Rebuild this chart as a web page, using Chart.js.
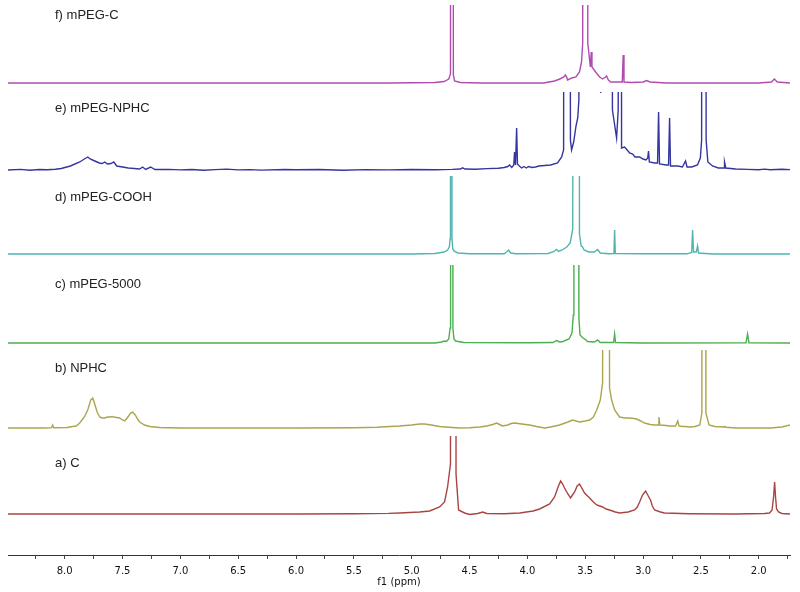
<!DOCTYPE html>
<html>
<head>
<meta charset="utf-8">
<script src="https://cdn.jsdelivr.net/npm/chart.js@4.4.1/dist/chart.umd.min.js"></script>
<style>
  html, body { margin: 0; padding: 0; background: #fff; }
  #wrap { width: 800px; height: 592px; }
</style>
</head>
<body>
<div id="wrap"><canvas id="chart"></canvas></div>
<script>
// 1H NMR stack, six spectra, shift axis runs right-to-left

const ppmMin = 1.73;
const ppmMax = 8.49;
const tickValues = [8.25, 8.0, 7.75, 7.5, 7.25, 7.0, 6.75, 6.5, 6.25, 6.0, 5.75, 5.5, 5.25,
  5.0, 4.75, 4.5, 4.25, 4.0, 3.75, 3.5, 3.25, 3.0, 2.75, 2.5, 2.25, 2.0, 1.75];
const labeledTicks = [8.0, 7.5, 7.0, 6.5, 6.0, 5.5, 5.0, 4.5, 4.0, 3.5, 3.0, 2.5, 2.0];

// labels, bottom trace first
const traceNames = ["a) C", "b) NPHC", "c) mPEG-5000", "d) mPEG-COOH", "e) mPEG-NPHC", "f) mPEG-C"];

// [ppm, intensity]; clipped peaks get a large guessed height
const traceC = [[8.49,0],[7.0,0],[6.0,0],[5.5,0.3],[5.2,0.6],[5.105,1],[4.932,2],[4.845,3],[4.759,7],
  [4.716,12],[4.69,27],[4.665,50],[4.657,2000],[4.625,2000],[4.617,40],[4.595,4],[4.543,1],[4.50,-0.5],
  [4.43,0.5],[4.387,2],[4.35,0.5],[4.2,0.3],[4.067,1],[3.95,3],[3.895,5],[3.808,10],[3.765,17],
  [3.735,27],[3.713,33],[3.695,30],[3.679,26],[3.65,20],[3.627,16],[3.61,19],[3.592,22],[3.57,28],
  [3.549,30],[3.53,26],[3.506,21],[3.48,18],[3.462,16],[3.43,12],[3.401,9],[3.375,8],[3.35,7],
  [3.32,5],[3.29,4],[3.24,2],[3.203,1],[3.13,2],[3.073,4],[3.05,7],[3.03,12],[3.005,19],[2.978,23],
  [2.955,18],[2.936,14],[2.92,8],[2.901,4],[2.85,2],[2.815,1],[2.6,0.3],[2.2,0],[1.95,0.5],[1.907,1],
  [1.885,4],[1.872,17],[1.863,32],[1.855,17],[1.846,5],[1.829,2],[1.80,0.5],[1.73,0]];

const traceNPHC = [[8.49,0],[8.2,0],[8.115,0.3],[8.104,3],[8.095,0.3],[7.98,0.5],[7.931,1.5],[7.90,2],
  [7.87,5],[7.83,11],[7.801,18],[7.775,28],[7.758,30],[7.74,24],[7.72,16],[7.697,11],[7.675,10],
  [7.654,10],[7.63,11],[7.611,11],[7.59,11.5],[7.576,11],[7.55,10.5],[7.525,10],[7.50,8],[7.481,7],
  [7.46,10],[7.43,15],[7.412,16],[7.39,13],[7.37,9],[7.352,6],[7.31,3],[7.265,1.5],[7.179,0.5],
  [7.0,0],[6.0,0],[5.5,0.3],[5.3,0.8],[5.191,1.5],[5.105,2],[5.0,3],[4.932,4],[4.889,4],[4.83,3],
  [4.759,1.5],[4.65,0.5],[4.586,0],[4.50,0.3],[4.413,1],[4.35,2],[4.30,3.5],[4.266,5],[4.24,3.5],
  [4.214,2],[4.17,3],[4.14,4.5],[4.111,5],[4.05,4],[3.981,3],[3.92,1.5],[3.851,0],[3.80,1],[3.722,3],
  [3.65,6],[3.609,8],[3.58,7],[3.549,6],[3.50,7],[3.462,8],[3.43,11],[3.401,18],[3.37,28],[3.35,45],
  [3.342,1500],[3.298,1500],[3.29,40],[3.272,28],[3.246,18],[3.203,11],[3.16,10],[3.117,10],[3.08,9.5],
  [3.056,9],[3.02,7],[2.987,5],[2.94,3.5],[2.901,3],[2.87,3],[2.863,11],[2.855,3],[2.80,2.5],[2.771,2],
  [2.72,2],[2.70,7],[2.69,2],[2.66,1.5],[2.633,1.5],[2.60,1],[2.55,1.5],[2.51,3],[2.492,15],[2.487,1500],
  [2.462,1500],[2.457,15],[2.43,3],[2.38,1.5],[2.30,1],[2.296,1.5],[2.28,0.8],[2.2,0],[1.9,0],[1.8,1],
  [1.73,3]];

const traceMPEG = [[8.49,0],[4.8,0],[4.74,1],[4.72,2],[4.70,1.5],[4.68,4],[4.668,15],[4.664,1500],
  [4.648,1500],[4.644,15],[4.635,4],[4.62,2],[4.55,0.5],[4.0,0.3],[3.78,0.5],[3.748,2.5],[3.72,1],
  [3.69,1.5],[3.675,2.5],[3.64,4],[3.615,10],[3.603,28],[3.598,1500],[3.56,1500],[3.555,25],[3.545,8],
  [3.52,5],[3.505,4],[3.48,1.5],[3.42,1],[3.393,3],[3.37,0.5],[3.255,0.5],[3.246,9],[3.238,0.5],
  [3.0,0],[2.11,0.3],[2.097,9],[2.085,0.3],[1.73,0]];

const traceCOOH = [[8.49,0],[5.0,0],[4.8,0.5],[4.72,2],[4.69,4],[4.675,7],[4.668,15],[4.665,1500],
  [4.655,1500],[4.652,15],[4.645,5],[4.63,2.5],[4.6,1],[4.5,0.3],[4.2,0.3],[4.18,2],[4.163,4],
  [4.145,1],[4.1,0.3],[3.82,0.5],[3.77,2.5],[3.748,4.5],[3.73,2.5],[3.70,4],[3.66,7],[3.63,11],
  [3.608,25],[3.598,1500],[3.56,1500],[3.55,20],[3.535,8],[3.523,7],[3.51,4],[3.47,2],[3.42,2],
  [3.393,4.5],[3.37,1],[3.30,0.3],[3.252,0.5],[3.246,24],[3.24,0.5],[3.0,0.2],[2.62,0.2],[2.58,1.5],
  [2.572,24],[2.564,2],[2.54,2],[2.529,8],[2.52,1],[2.4,0],[1.73,0]];

const traceMPEGNPHC = [[8.49,0],[8.38,0.6],[8.3,-0.3],[8.22,0.5],[8.15,0.2],[8.08,0.8],[8.03,1.5],
  [7.95,4],[7.87,8],[7.83,11],[7.80,13],[7.78,11],[7.74,9],[7.70,7],[7.675,6.5],[7.654,8],[7.63,6],
  [7.60,6.5],[7.576,8],[7.55,4],[7.50,3],[7.45,2],[7.40,1.5],[7.352,1],[7.326,3],[7.30,0.5],[7.257,3],
  [7.22,0.5],[7.1,0.6],[7.0,0.1],[6.9,0.5],[6.8,-0.2],[6.7,0.4],[6.6,0.9],[6.5,0.1],[6.4,0.4],
  [6.3,-0.1],[6.1,0.5],[6.0,0.2],[5.8,0.5],[5.6,-0.2],[5.4,0.4],[5.2,0.1],[5.0,0.5],[4.8,0.2],
  [4.65,0.6],[4.58,1],[4.56,2.2],[4.54,1],[4.45,0.8],[4.35,1.4],[4.25,1.8],[4.20,2.5],[4.17,3.5],
  [4.154,5],[4.135,2.5],[4.118,5],[4.111,18],[4.103,5],[4.093,42],[4.086,6],[4.07,4],[4.05,2],
  [4.03,3.5],[4.01,2],[3.99,3.5],[3.96,2.5],[3.93,3],[3.90,4],[3.85,4.5],[3.80,5],[3.739,7],
  [3.704,13],[3.687,20],[3.679,1500],[3.645,1500],[3.628,30],[3.618,20],[3.60,28],[3.58,44],
  [3.565,52],[3.555,70],[3.548,1500],[3.39,1500],[3.367,77],[3.345,1500],[3.282,1500],[3.265,60],
  [3.229,32],[3.215,60],[3.208,1500],[3.196,1500],[3.186,22],[3.16,23],[3.13,19],[3.117,17],
  [3.09,16],[3.07,13],[3.03,13],[3.00,11],[2.975,10],[2.96,12],[2.953,19],[2.946,8],[2.90,7],
  [2.875,7],[2.866,58],[2.858,6],[2.80,5],[2.78,5],[2.771,52],[2.763,4],[2.70,4],[2.66,3],[2.633,9],
  [2.62,3],[2.58,3],[2.53,5],[2.505,12],[2.494,30],[2.489,1500],[2.462,1500],[2.455,30],[2.44,8],
  [2.40,4],[2.35,2],[2.30,2],[2.296,8],[2.285,2],[2.2,1],[2.1,0.6],[2.0,0.2],[1.95,0.9],[1.9,0.3],
  [1.8,0.7],[1.73,0.4]];

const traceMPEGC = [[8.49,0],[5.2,0],[4.8,0.5],[4.72,1.5],[4.68,4],[4.665,9],[4.656,1500],[4.648,1500],
  [4.64,8],[4.63,2],[4.58,0.5],[4.4,0],[3.86,0],[3.765,2],[3.72,4],[3.704,5],[3.685,6],[3.672,8],
  [3.66,6],[3.653,3],[3.635,4],[3.618,5],[3.58,6],[3.55,11],[3.532,21],[3.522,40],[3.515,2000],
  [3.486,2000],[3.478,40],[3.456,16],[3.448,31],[3.442,16],[3.41,11],[3.376,6],[3.35,4],[3.325,6],
  [3.316,7],[3.30,3],[3.28,1],[3.18,1],[3.172,28],[3.165,1],[3.1,0.5],[3.0,1],[2.97,2.5],[2.94,1],
  [2.8,0],[2.0,0],[1.89,1],[1.865,4],[1.84,1],[1.73,0]];

const traces = [traceC, traceNPHC, traceMPEG, traceCOOH, traceMPEGNPHC, traceMPEGC];
const traceColors = ["#a94444", "#aaa54e", "#4caf50", "#52b4b0", "#3535a0", "#b04cb0"];

// layout: band height of each trace (px), visible peak height, label height above baseline
const bandHeights = [119, 86, 85, 89, 84, 87];
const clipHeight = 78;
const labelLift = [51, 60, 59, 57, 62, 68];

const datasets = traces.map((t, i) => ({
  label: traceNames[i],
  data: t.map(p => ({ x: p[0], y: p[1] })),
  yAxisID: "y" + i,
  borderColor: traceColors[i],
  borderWidth: 1.4,
  pointRadius: 0,
  tension: 0,
  fill: false,
}));

const scales = {
  x: {
    type: "linear",
    reverse: true,
    min: ppmMin,
    max: ppmMax,
    afterBuildTicks: (axis) => {
      axis.ticks = tickValues.map(v => ({ value: v }));
    },
    ticks: {
      autoSkip: false,
      maxRotation: 0,
      padding: 6,
      color: "#111",
      font: { family: "DejaVu Sans", size: 10 },
      callback: (v) => (labeledTicks.includes(v) ? v.toFixed(1) : ""),
    },
    grid: { drawOnChartArea: false, tickLength: 4, color: "#444" },
    border: { display: true, color: "#333", width: 1 },
    title: {
      display: true,
      text: "f1 (ppm)",
      color: "#111",
      font: { family: "DejaVu Sans", size: 10 },
      padding: { top: -7, bottom: 3 },
    },
  },
};
bandHeights.forEach((h, i) => {
  scales["y" + i] = {
    type: "linear",
    display: false,
    stack: "nmr",
    stackWeight: h,
    min: -(h - clipHeight),
    max: clipHeight,
  };
});

// keep each spectrum inside its own band
const bandClip = {
  id: "bandClip",
  beforeDatasetDraw(chart, args) {
    const { xScale, yScale } = args.meta;
    const ctx = chart.ctx;
    ctx.save();
    ctx.beginPath();
    ctx.rect(xScale.left, yScale.top, xScale.right - xScale.left, yScale.bottom - yScale.top);
    ctx.clip();
  },
  afterDatasetDraw(chart) {
    chart.ctx.restore();
  },
};

const traceLabels = {
  id: "traceLabels",
  afterDatasetsDraw(chart) {
    const ctx = chart.ctx;
    ctx.save();
    ctx.font = '13px "Liberation Sans", Arial, sans-serif';
    ctx.fillStyle = "#222";
    ctx.textBaseline = "middle";
    chart.data.datasets.forEach((ds, i) => {
      const y = chart.scales[ds.yAxisID].getPixelForValue(labelLift[i]);
      ctx.fillText(ds.label, 55, y);
    });
    ctx.restore();
  },
};

const ctx = document.getElementById("chart").getContext("2d");
const chart = new Chart(ctx, {
  type: "line",
  data: { datasets: datasets },
  options: {
    responsive: true,
    maintainAspectRatio: false,
    animation: false,
    events: [],
    layout: { padding: { top: 5, left: 8, right: 10, bottom: 1 } },
    plugins: { legend: { display: false }, tooltip: { enabled: false } },
    scales: scales,
  },
  plugins: [bandClip, traceLabels],
});
</script>
</body>
</html>
